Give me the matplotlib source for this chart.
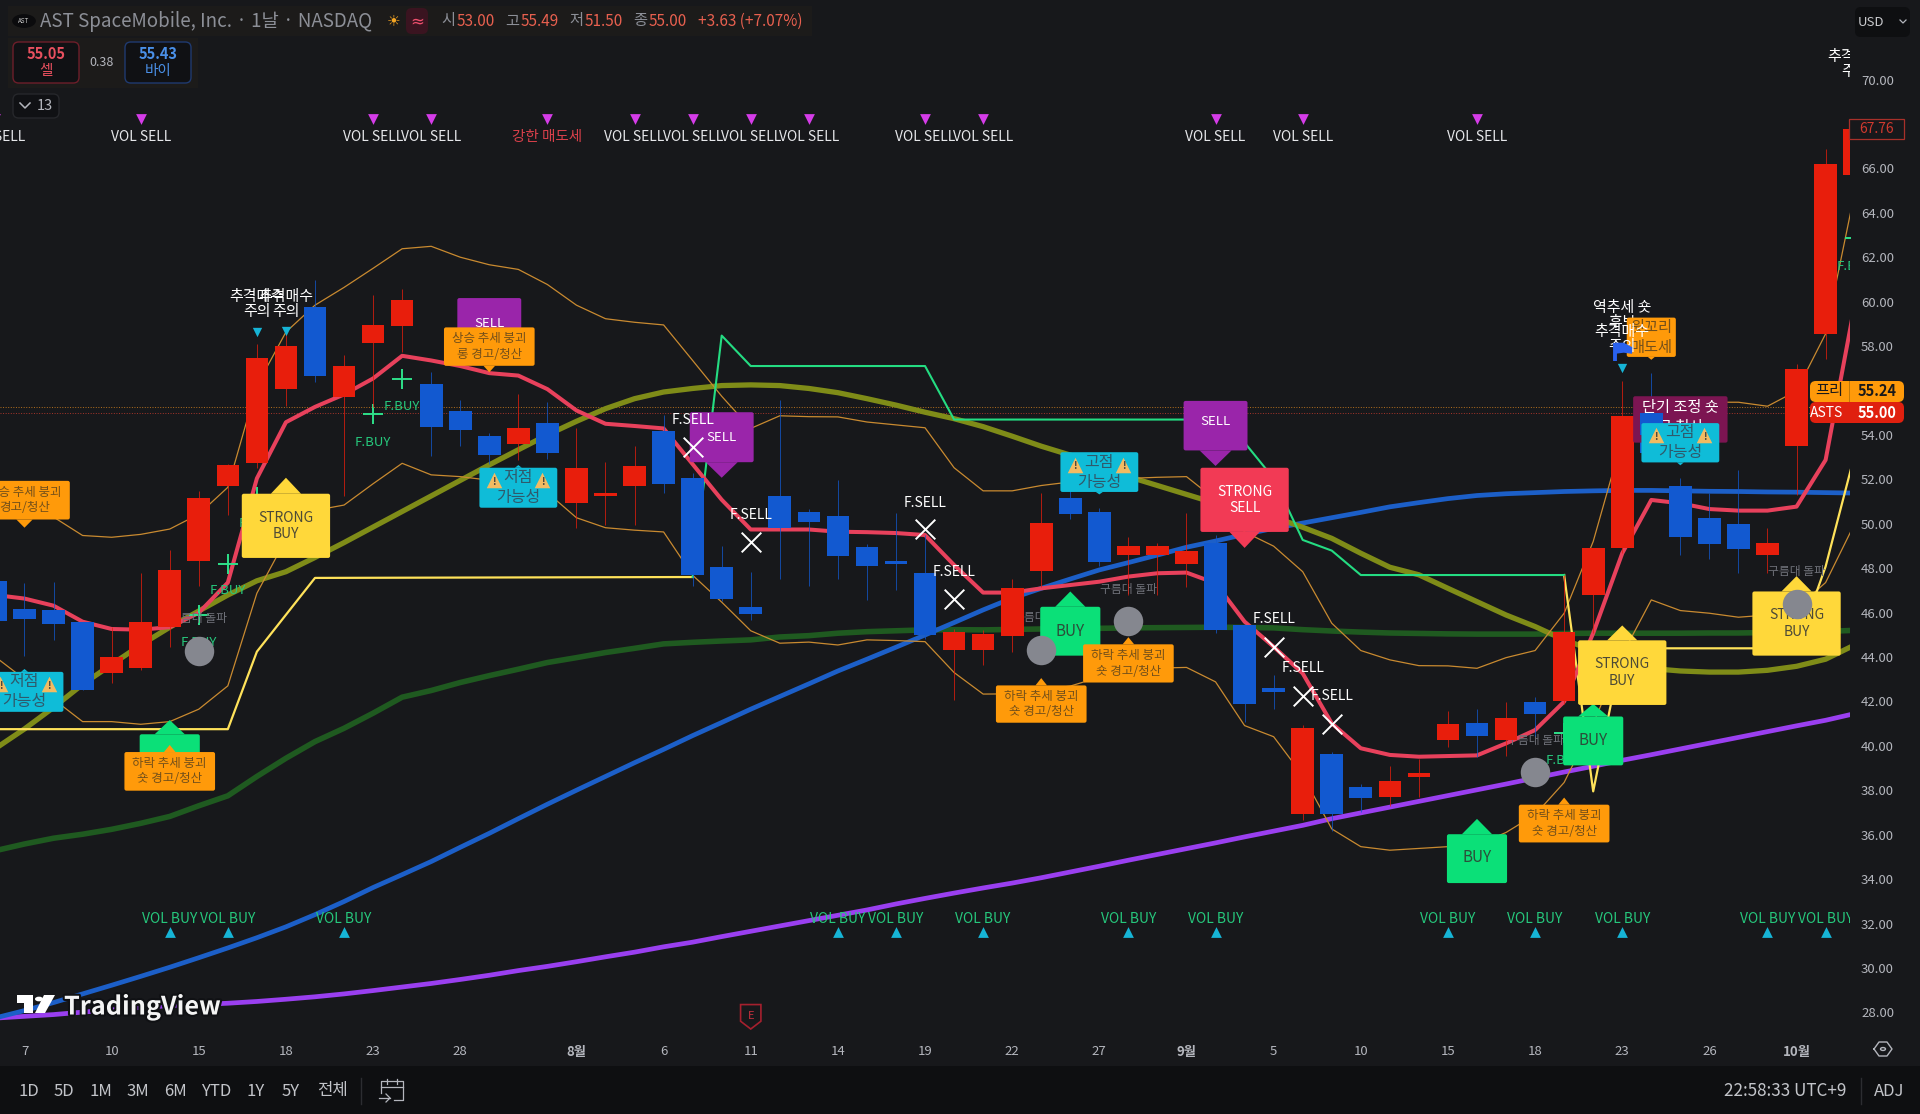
import matplotlib
matplotlib.use("Agg")
import matplotlib.pyplot as plt
from matplotlib.patches import Polygon, Circle, FancyBboxPatch, Rectangle
import matplotlib.patheffects as pe

plt.rcParams['font.family'] = ['Noto Sans CJK KR', 'DejaVu Sans']

W, H = 1920, 1114
BG = '#17181b'
BAR = '#0e0f11'
TXT = '#b4b6bd'

bar_index = [-1, 0, 1, 2, 3, 4, 5, 6, 7, 8, 9, 10, 11, 12, 13, 14, 15, 16, 17, 18, 19, 20, 21, 22, 23, 24, 25, 26, 27, 28, 29, 30,
             31, 32, 33, 34, 35, 36, 37, 38, 39, 40, 41, 42, 43, 44, 45, 46, 47, 48, 49, 50, 51, 52, 53, 54, 55, 56, 57, 58, 59, 60, 61, 62, 63]
opens = [47.43, 46.18, 46.10, 45.59, 43.29, 43.5, 45.34, 48.32, 51.72, 52.75, 56.06, 59.76, 55.69, 58.12, 58.9, 56.3, 55.08, 53.97, 53.6, 54.53, 50.92, 51.24, 51.72, 54.18, 52.07, 48.03, 46.26, 51.27, 50.53, 50.35, 48.94, 48.3,
         47.76, 44.31, 44.33, 44.94, 47.87, 51.17, 50.51, 48.58, 48.6, 48.19, 49.12, 45.42, 42.61, 36.95, 39.64, 38.16, 37.71, 38.59, 40.28, 41.04, 40.28, 41.97, 42.02, 46.79, 48.9, 55.0, 51.69, 50.24, 50.0, 48.58, 53.52, 58.55, 65.68]
highs = [47.6, 47.35, 47.39, 45.59, 45.34, 47.76, 48.8, 51.48, 52.7, 58.07, 58.55, 60.96, 57.59, 60.32, 60.56, 56.83, 55.58, 54.1, 55.82, 55.5, 54.3, 52.77, 53.5, 54.9, 52.3, 49.0, 47.84, 55.55, 50.68, 51.96, 49.1, 50.5,
         49.5, 45.26, 45.2, 47.51, 51.37, 52.0, 50.69, 49.42, 49.12, 50.47, 49.47, 45.5, 43.17, 40.92, 39.72, 38.3, 39.07, 39.4, 41.57, 41.65, 41.97, 42.2, 47.7, 48.9, 56.42, 56.78, 52.04, 51.4, 52.44, 49.8, 57.2, 66.86, 67.76]
lows = [45.3, 44.06, 44.78, 42.5, 42.82, 43.42, 44.43, 47.2, 50.4, 52.5, 55.29, 56.38, 51.24, 55.26, 57.75, 53.04, 53.49, 52.7, 52.85, 52.93, 49.8, 49.95, 49.95, 51.4, 47.2, 46.5, 45.67, 47.5, 47.2, 47.5, 46.57, 47.03,
        44.8, 42.06, 43.64, 44.24, 47.17, 50.2, 48.1, 46.79, 46.79, 47.17, 45.1, 41.08, 41.65, 36.66, 36.18, 37.0, 37.3, 37.7, 39.96, 39.48, 39.56, 40.44, 41.9, 45.1, 48.7, 53.0, 48.6, 48.4, 47.8, 47.8, 51.3, 57.43, 65.68]
closes = [45.62, 45.70, 45.47, 42.53, 44.0, 45.59, 47.92, 51.16, 52.65, 57.48, 58.02, 56.67, 57.1, 58.95, 60.08, 54.34, 54.23, 53.09, 54.32, 53.2, 52.49, 51.4, 52.6, 51.8, 47.71, 46.63, 45.94, 49.79, 50.08, 48.54, 48.11, 48.2,
          44.97, 45.12, 45.03, 47.11, 50.05, 50.45, 48.27, 48.99, 48.99, 48.78, 45.23, 41.89, 42.42, 40.81, 36.95, 37.63, 38.42, 38.77, 41.0, 40.44, 41.24, 41.45, 45.14, 48.9, 54.84, 53.2, 49.42, 49.1, 48.86, 49.12, 56.98, 66.19, 67.76]

pink_line = [46.79, 46.63, 46.31, 45.59, 45.26, 45.23, 45.34, 45.99, 47.35, 52.04, 54.57, 55.26, 55.82, 56.54, 57.56, 57.35, 57.1, 56.78, 56.67, 56.06, 55.1, 54.5, 54.4, 54.29, 52.68, 51.08, 49.74, 49.74, 49.74, 49.64, 49.62, 49.58,
             49.49, 48.14, 46.9, 46.9, 47.09, 47.24, 47.39, 47.62, 47.77, 47.8, 47.32, 45.59, 44.46, 43.26, 41.01, 39.89, 39.59, 39.51, 39.54, 39.57, 40.11, 40.71, 41.99, 45.07, 48.67, 51.07, 50.92, 50.66, 50.59, 50.59, 50.77, 52.87, 59.84]
band_upper = [51.2, 50.8, 50.3, 49.47, 49.39, 49.52, 49.76, 50.43, 51.64, 56.22, 58.63, 59.84, 60.64, 61.5, 62.38, 62.49, 62.0, 61.66, 61.45, 60.77, 59.84, 59.23, 59.07, 58.95, 57.35, 55.74, 54.29, 54.86, 54.82, 54.81, 54.58, 54.45,
              54.32, 52.52, 51.48, 51.48, 51.72, 51.88, 51.96, 52.04, 52.09, 52.12, 51.08, 49.63, 48.99, 47.84, 45.52, 44.29, 43.87, 43.61, 43.6, 43.49, 43.97, 44.29, 45.97, 49.2, 53.81, 55.5, 55.66, 55.47, 55.47, 55.29, 55.98, 58.55, 64.9]
band_lower = [44.0, 43.0, 42.1, 41.09, 41.09, 40.97, 41.09, 41.65, 42.7, 46.87, 49.3, 50.6, 50.84, 51.8, 52.72, 52.2, 52.12, 51.96, 52.04, 51.4, 50.27, 49.82, 49.71, 49.63, 47.68, 46.47, 45.18, 44.62, 44.67, 44.54, 44.77, 44.74,
              44.69, 43.3, 42.33, 42.34, 42.53, 42.69, 43.09, 43.33, 43.5, 43.53, 42.88, 40.91, 40.41, 38.67, 36.26, 35.46, 35.3, 35.38, 35.46, 35.54, 36.1, 36.9, 38.35, 41.0, 44.1, 46.57, 46.09, 45.97, 45.79, 45.89, 46.2, 47.35, 50.0]
olive_line = [39.88, 40.76, 41.73, 42.77, 43.66, 44.54, 45.34, 46.07, 46.79, 47.43, 47.84, 48.48, 49.15, 49.85, 50.55, 51.25, 51.95, 52.65, 53.33, 54.0, 54.61, 55.18, 55.63, 55.93, 56.09, 56.22, 56.25, 56.22, 56.09, 55.9, 55.63, 55.34,
              55.02, 54.73, 54.37, 53.94, 53.49, 53.09, 52.6, 52.12, 51.72, 51.32, 50.92, 50.6, 50.3, 49.84, 49.34, 48.67, 48.04, 47.7, 47.09, 46.49, 45.89, 45.37, 44.77, 44.3, 43.75, 43.48, 43.37, 43.32, 43.32, 43.4, 43.58, 43.9, 44.54]
dark_green = [35.28, 35.58, 35.84, 36.02, 36.24, 36.51, 36.82, 37.3, 37.75, 38.62, 39.44, 40.19, 40.79, 41.47, 42.19, 42.49, 42.85, 43.16, 43.45, 43.75, 43.97, 44.2, 44.39, 44.59, 44.66, 44.72, 44.77, 44.9, 44.96, 45.07, 45.14, 45.18,
              45.22, 45.23, 45.22, 45.24, 45.26, 45.28, 45.29, 45.31, 45.32, 45.33, 45.34, 45.33, 45.31, 45.23, 45.17, 45.12, 45.08, 45.06, 45.04, 45.03, 45.03, 45.03, 45.06, 45.07, 45.07, 45.07, 45.07, 45.08, 45.08, 45.1, 45.12, 45.15, 45.2]
blue_line = [27.75, 28.08, 28.44, 28.83, 29.22, 29.62, 30.03, 30.46, 30.9, 31.36, 31.85, 32.4, 32.99, 33.62, 34.2, 34.79, 35.43, 36.06, 36.72, 37.37, 38.0, 38.62, 39.24, 39.84, 40.46, 41.05, 41.65, 42.22, 42.79, 43.37, 43.9, 44.44,
             44.99, 45.55, 46.12, 46.65, 47.09, 47.51, 47.92, 48.25, 48.59, 48.94, 49.22, 49.52, 49.79, 50.03, 50.27, 50.51, 50.76, 50.95, 51.13, 51.27, 51.35, 51.4, 51.45, 51.48, 51.5, 51.5, 51.48, 51.46, 51.45, 51.43, 51.42, 51.4, 51.38]
purple_line = [27.74, 27.82, 27.9, 28.01, 28.11, 28.22, 28.3, 28.35, 28.41, 28.49, 28.59, 28.7, 28.83, 28.98, 29.14, 29.3, 29.48, 29.67, 29.88, 30.07, 30.28, 30.5, 30.71, 30.95, 31.16, 31.41, 31.65, 31.89, 32.13, 32.37, 32.61, 32.88,
               33.13, 33.37, 33.6, 33.82, 34.06, 34.32, 34.58, 34.85, 35.11, 35.37, 35.63, 35.9, 36.16, 36.42, 36.72, 36.98, 37.24, 37.5, 37.76, 38.02, 38.28, 38.55, 38.82, 39.08, 39.35, 39.6, 39.86, 40.12, 40.38, 40.64, 40.9, 41.15, 41.45]

yellow_x1 = [-1, 7, 8, 9, 10, 23]
yellow_y1 = [40.75, 40.75, 44.24, 45.9, 47.56, 47.6]
green_x = [23, 24, 25, 31, 32, 41, 42, 43, 44, 45, 46, 53]
green_y = [47.6, 58.47, 57.1, 57.1, 54.69, 54.69, 53.65, 52.04, 49.27, 48.79, 47.69, 47.69]
yellow_x2 = [53, 54, 55, 60, 61, 62, 63]
yellow_y2 = [47.69, 37.95, 44.39, 44.39, 44.39, 48.07, 53.1]

vol_sell_x = [-1, 4, 12, 14, 21, 23, 25, 27, 31, 33, 41, 44, 50]
vol_buy_x = [5, 7, 11, 28, 30, 33, 38, 41, 49, 52, 55, 60, 62]
strong_sell_x = [18]
price_ticks = [28, 30, 32, 34, 36, 38, 40, 42, 44, 46, 48, 50, 52, 54, 58, 60, 62, 64, 66, 70]
date_pos = [0, 3, 6, 9, 12, 15, 19, 22, 25, 28, 31, 34, 37, 40, 43, 46, 49, 52, 55, 58, 61]
date_lbl = ['7', '10', '15', '18', '23', '28', '8월', '6', '11', '14', '19', '22', '27', '9월', '5', '10', '15', '18', '23', '26', '10월']
fbuy_x = [6, 7, 8, 12, 13, 53, 63]
fbuy_text_y = [44.65, 46.98, 50.03, 53.65, 55.26, 39.36, 61.56]
fbuy_plus_y = [45.9, 48.19, 51.2, 54.94, 56.51, 40.56, 62.85]
fsell_x = [23, 25, 31, 32, 43, 44, 45]
fsell_text_y = [54.69, 50.39, 50.95, 47.83, 45.71, 43.5, 42.26]
fsell_mark_y = [53.46, 49.18, 49.75, 46.6, 44.46, 42.26, 41.0]
circle_x = [6, 35, 38, 52, 61]
circle_y = [44.27, 44.33, 45.63, 38.8, 46.39]
cloud_x = [6, 35, 38, 52, 61]
cloud_y = [45.75, 45.78, 47.03, 40.23, 47.87]

fig = plt.figure(figsize=(W / 100, H / 100), dpi=100, facecolor=BG)
AX_R, AX_B = 1850, 1035
ax = fig.add_axes([0, 1 - AX_B / H, AX_R / W, AX_B / H], facecolor=BG)
ax.set_xlim(-0.843, 62.84)
ax.set_ylim(26.98, 73.58)
for s in ax.spines.values():
    s.set_visible(False)
ax.yaxis.tick_right()
ax.set_yticks(price_ticks)
ax.set_yticklabels([f'{p:.2f}' for p in price_ticks], color=TXT, fontsize=9.5)
ax.set_xticks(date_pos)
ax.set_xticklabels(date_lbl, color=TXT, fontsize=9.5)
for l, t in zip(ax.get_xticklabels(), date_lbl):
    if '월' in t:
        l.set_fontweight('bold')
ax.tick_params(axis='both', length=0)
ax.tick_params(axis='x', pad=7)
ax.tick_params(axis='y', pad=8)

# lines
ax.plot(bar_index, dark_green, color='#1f5a20', lw=4.0, zorder=2)
ax.plot(bar_index, purple_line, color='#9a3ff0', lw=3.4, zorder=2)
ax.plot(bar_index, blue_line, color='#1c5fc8', lw=3.4, zorder=2.1)
ax.plot(bar_index, olive_line, color='#7f8c18', lw=3.8, zorder=2.2)
ax.plot(bar_index, band_upper, color='#c98a30', lw=0.9, zorder=2.3)
ax.plot(bar_index, band_lower, color='#c98a30', lw=0.9, zorder=2.3)
for xs, ys in ((yellow_x1, yellow_y1), (yellow_x2, yellow_y2)):
    ax.plot(xs, ys, color='#ffe25a', lw=1.6, zorder=2.4)
ax.plot(green_x, green_y, color='#24dc82', lw=1.5, zorder=2.4)
ax.plot(bar_index, pink_line, color='#e8415c', lw=2.9, zorder=2.5)
ax.axhline(55.24, color='#b5701e', lw=0.7, ls=':', zorder=1.5)
ax.axhline(55.00, color='#a8352a', lw=0.7, ls=':', zorder=1.5)

# markers under candles and labels
ax.scatter(fbuy_x, fbuy_plus_y, marker='+', s=190, color='#2ee08a', linewidths=1.4, zorder=2.6)
for x, y in zip(fbuy_x, fbuy_text_y):
    ax.text(x, y, 'F.BUY', color='#26c77c', fontsize=9.5, ha='center', va='center', zorder=2.6, clip_on=True)
for x, y in zip(cloud_x, cloud_y):
    ax.text(x, y, '구름대 돌파', color='#6f7179', fontsize=8.5, ha='center', va='center', zorder=2.6, clip_on=True)

# candles
RED, BLUE = '#e81e0c', '#1259d0'
for x, o, h, l, c in zip(bar_index, opens, highs, lows, closes):
    col = RED if c >= o else BLUE
    ax.plot([x, x], [l, h], color=col, lw=0.7, alpha=0.75, zorder=3, solid_capstyle='butt')
    ax.add_patch(Rectangle((x - 0.39, min(o, c)), 0.78, max(abs(c - o), 0.08), fc=col, ec='none', zorder=3.1))


def callout(cx, top, bot, w, color, lines=None, tcolor='#333', fs=9, tip=None, tip_w=0.3, z=5, warn=False, ty=None):
    ax.add_patch(FancyBboxPatch((cx - w / 2, bot), w, top - bot, boxstyle='round,pad=0,rounding_size=0.07', mutation_aspect=1.3, fc=color, ec='none', zorder=z))
    if tip is not None:
        base = top if tip > top else bot
        ax.add_patch(Polygon([(cx - tip_w, base), (cx + tip_w, base), (cx, tip)], closed=True, fc=color, ec='none', zorder=z))
    if lines:
        yc = (top + bot) / 2 if ty is None else ty
        ax.text(cx, yc, lines, color=tcolor, fontsize=fs, ha='center', va='center', linespacing=1.22, zorder=z + 0.1, clip_on=True)
    if warn:
        yl = (top + bot) / 2 + 0.34
        for dx in (-0.83, 0.83):
            ax.scatter([cx + dx], [yl], marker='^', s=125, color='#f2bb62', linewidths=0, zorder=z + 0.1)
            ax.text(cx + dx, yl - 0.06, '!', color='#3a3a3a', fontsize=7, fontweight='bold', ha='center', va='center', zorder=z + 0.2)


ORANGE, CYAN, GREEN, YELLOW, PURPLE = '#ff9a0a', '#0fbcd8', '#0be078', '#ffd83a', '#9a25aa'
BROWN = '#74501a'
TEAL = '#2f5a6c'
# vertical order follows the reference
callout(0, 51.93, 50.19, 3.12, ORANGE, '상승 추세 붕괴\n경고/청산', BROWN, tip=49.82, tip_w=0.28)
callout(0, 43.33, 41.53, 2.68, CYAN, '저점\n가능성', TEAL, fs=11.5, tip=43.46, tip_w=0.12, warn=True)
callout(5, 40.52, 38.5, 2.07, GREEN, tip=41.16, tip_w=0.52)
callout(5, 39.72, 37.98, 3.12, ORANGE, '하락 추세 붕괴\n숏 경고/청산', BROWN, tip=40.04, tip_w=0.2, z=5.2)
callout(9, 51.35, 48.46, 3.04, YELLOW, 'STRONG\nBUY', '#4d4a36', fs=10, tip=52.07, tip_w=0.52)
callout(16, 60.16, 58.0, 2.2, PURPLE, 'SELL', 'white', fs=9.5, ty=59.0)
callout(16, 58.84, 57.11, 3.12, ORANGE, '상승 추세 붕괴\n롱 경고/청산', BROWN, tip=56.82, tip_w=0.2, z=5.2)
callout(17, 52.52, 50.72, 2.68, CYAN, '저점\n가능성', TEAL, fs=11.5, tip=52.64, tip_w=0.12, warn=True)
callout(24, 55.02, 52.77, 2.2, PURPLE, 'SELL', 'white', fs=9.5, tip=52.07, tip_w=0.55, ty=53.9)
callout(36, 46.26, 44.06, 2.07, GREEN, 'BUY', '#2b4f3a', fs=11, tip=46.95, tip_w=0.52, ty=45.15)
callout(35, 42.72, 41.04, 3.12, ORANGE, '하락 추세 붕괴\n숏 경고/청산', BROWN, tip=43.05, tip_w=0.2)
callout(38, 44.57, 42.85, 3.12, ORANGE, '하락 추세 붕괴\n숏 경고/청산', BROWN, tip=44.89, tip_w=0.2)
callout(37, 53.22, 51.43, 2.68, CYAN, '고점\n가능성', TEAL, fs=11.5, tip=51.32, tip_w=0.12, warn=True)
callout(41, 55.53, 53.3, 2.2, PURPLE, 'SELL', 'white', fs=9.5, tip=52.6, tip_w=0.55, ty=54.6)
callout(42, 52.52, 49.63, 3.04, '#f23a55', 'STRONG\nSELL', 'white', fs=10, tip=48.91, tip_w=0.52)
callout(57, 55.74, 53.65, 3.25, '#7c1552', '단기 조정 숏\n금 청산', 'white', fs=11, z=4.5, ty=54.77)
ax.add_patch(Rectangle((55.61, 54.0), 0.78, 1.0, fc=BLUE, ec='none', zorder=4.6))
callout(57, 54.53, 52.76, 2.68, CYAN, '고점\n가능성', TEAL, fs=11.5, tip=52.63, tip_w=0.12, warn=True)
callout(56, 59.28, 57.51, 1.69, ORANGE, '윗꼬리\n매도세', BROWN, fs=11, tip=57.38, tip_w=0.12, z=5.3)
callout(50, 36.02, 33.82, 2.07, GREEN, 'BUY', '#2b4f3a', fs=11, tip=36.71, tip_w=0.52, ty=34.96)
callout(53, 37.35, 35.65, 3.12, ORANGE, '하락 추세 붕괴\n숏 경고/청산', BROWN, tip=37.67, tip_w=0.2)
callout(54, 41.32, 39.12, 2.07, GREEN, 'BUY', '#2b4f3a', fs=11, tip=41.89, tip_w=0.52)
callout(55, 44.75, 41.84, 3.04, YELLOW, 'STRONG\nBUY', '#4d4a36', fs=10, tip=45.42, tip_w=0.52)
callout(61, 46.95, 44.06, 3.04, YELLOW, 'STRONG\nBUY', '#4d4a36', fs=10, tip=47.64, tip_w=0.52)

# circles over the boxes
ax.scatter(circle_x, circle_y, s=450, color='#85878f', zorder=6, linewidths=0)

# F.SELL
ax.scatter(fsell_x, fsell_mark_y, marker='x', s=200, color='white', linewidths=1.4, zorder=6)
for x, y in zip(fsell_x, fsell_text_y):
    ax.text(x, y, 'F.SELL', color='white', fontsize=10, ha='center', va='center', zorder=6)

# chase warnings
warn_x = [8, 9, 55, 63]
warn_y = [59.86, 59.86, 58.31, 70.66]
for x, y in zip(warn_x, warn_y):
    ax.text(x, y, '추격매수\n주의', color='white', fontsize=10.8, ha='center', va='center', linespacing=1.1, zorder=6, clip_on=True)
ax.text(55, 59.36, '역추세 숏\n후보', color='white', fontsize=10.8, ha='center', va='center', linespacing=1.1, zorder=5.1)
ax.scatter([8, 9, 55], [58.63, 58.66, 57.03], marker='v', s=45, color='#16b4d6', linewidths=0, zorder=6)

# blue flag
ax.plot([54.75, 54.75], [57.32, 58.15], color='#2a62f0', lw=2.8, zorder=6.2, solid_capstyle='butt')
ax.add_patch(Polygon([(54.75, 58.15), (55.05, 58.15), (55.34, 57.95), (55.34, 57.65), (55.05, 57.7), (54.75, 57.65)], fc='#2a62f0', ec='none', zorder=6.2))

# volume marks
ax.scatter(vol_sell_x + strong_sell_x, [68.24] * (len(vol_sell_x) + 1), marker='v', s=60, color='#d53ce8', linewidths=0, zorder=6)
for x in vol_sell_x:
    ax.text(x, 67.42, 'VOL SELL', color='#e6e7ea', fontsize=10, ha='center', va='center', zorder=6, clip_on=True)
for x in strong_sell_x:
    ax.text(x, 67.42, '강한 매도세', color='#d8404a', fontsize=10.5, ha='center', va='center', zorder=6)
ax.scatter(vol_buy_x, [31.6] * len(vol_buy_x), marker='^', s=60, color='#16b4d6', linewidths=0, zorder=6)
for x in vol_buy_x:
    ax.text(x, 32.22, 'VOL BUY', color='#26c77c', fontsize=10, ha='center', va='center', zorder=6, clip_on=True)

# earnings mark
ax.add_patch(Polygon([(24.65, 28.35), (25.35, 28.35), (25.35, 27.6), (25, 27.25), (24.65, 27.6)], closed=True, fc='none', ec='#a5202e', lw=1.2, zorder=6))
ax.text(25, 27.85, 'E', color='#c6303e', fontsize=8, ha='center', va='center', zorder=6)


def fx(x):
    return x / W


def fy(y):
    return 1 - y / H


def ftext(x, y, s, color=TXT, fs=10, ha='center', **kw):
    return fig.text(fx(x), fy(y), s, color=color, fontsize=fs, ha=ha, va='center', **kw)


def frect(x0, y0, x1, y1, fc, ec='none', lw=0.8, z=10, rounded=False):
    style = 'round,pad=0,rounding_size=0.003' if rounded else 'square,pad=0'
    r = FancyBboxPatch((fx(x0), fy(y1)), (x1 - x0) / W, (y1 - y0) / H, boxstyle=style, mutation_aspect=1.72, transform=fig.transFigure, fc=fc, ec=ec, lw=lw, zorder=z)
    fig.add_artist(r)
    return r


def fline(xs, ys, color=TXT, lw=1.0, z=11):
    fig.add_artist(plt.Line2D([fx(x) for x in xs], [fy(y) for y in ys], color=color, lw=lw, transform=fig.transFigure, zorder=z))


def fpoly(pts, fc='white', z=12):
    fig.add_artist(Polygon([(fx(a), fy(b)) for a, b in pts], closed=True, transform=fig.transFigure, fc=fc, ec='none', zorder=z))


# TradingView logo
halo = [pe.withStroke(linewidth=3, foreground='#101114')]
ftext(64, 1007, 'TradingView', color='#f4f4f4', fs=18.2, ha='left', fontweight='bold', path_effects=halo, zorder=12)
fpoly([(17, 995), (33, 995), (33, 1013), (24, 1013), (24, 1003), (17, 1003)])
fig.add_artist(Circle((fx(39), fy(999)), 0.0021, transform=fig.transFigure, fc='white', ec='none', zorder=12))
fpoly([(44, 995), (55, 995), (45, 1013), (35, 1013)])

# header
frect(8, 6, 812, 36, '#1c1b1a', z=9)
fig.add_artist(Circle((fx(24), fy(21)), 0.0062, transform=fig.transFigure, fc='#0b0b0d', ec='none', zorder=10))
ftext(24, 21, 'AST', color='#c9c9c9', fs=4.5, zorder=11)
ftext(40, 21, 'AST SpaceMobile, Inc. · 1날 · NASDAQ', color='#8c8f97', fs=13.5, ha='left', zorder=11)
ftext(394, 21, '☀', color='#f5a623', fs=11, family='DejaVu Sans', zorder=11)
frect(406, 8, 428, 34, '#3a1420', z=10, rounded=True)
ftext(417, 21, '≈', color='#f0506e', fs=12, family='DejaVu Sans', zorder=11)
header_parts = [(441, '시', '#8c8f97'), (457, '53.00', '#e8604f'), (505, '고', '#8c8f97'), (521, '55.49', '#e8604f'), (569, '저', '#8c8f97'), (585, '51.50', '#e8604f'), (633, '종', '#8c8f97'), (649, '55.00', '#e8604f'), (698, '+3.63 (+7.07%)', '#e8604f')]
for x, s, c in header_parts:
    ftext(x, 21, s, color=c, fs=11, ha='left', zorder=11)

frect(8, 38, 198, 88, '#1c1b1a', z=9)
frect(13, 42, 79, 83, '#101114', ec='#6d1e2a', lw=1.0, z=10, rounded=True)
ftext(46, 54, '55.05', color='#e8505f', fs=10.5, fontweight='bold', zorder=11)
ftext(46, 71, '셀', color='#e8505f', fs=10.5, zorder=11)
ftext(102, 62, '0.38', color=TXT, fs=9, zorder=11)
frect(125, 42, 191, 83, '#101114', ec='#1f3a70', lw=1.0, z=10, rounded=True)
ftext(158, 54, '55.43', color='#4a90e8', fs=10.5, fontweight='bold', zorder=11)
ftext(158, 71, '바이', color='#4a90e8', fs=10.5, zorder=11)
frect(13, 94, 59, 118, '#101114', ec='#26272b', lw=1.0, z=10, rounded=True)
fline([20, 25, 30], [103, 108, 103], color=TXT, lw=1.1)
ftext(45, 106, '13', fs=10.5, zorder=11)

# price-scale tags
frect(1855, 7, 1910, 37, '#0e0f11', z=9, rounded=True)
ftext(1871, 22, 'USD', color='#c8c9cc', fs=9.5, zorder=11)
fline([1900, 1903, 1906], [20, 23, 20], color=TXT, lw=0.9)
frect(1849, 119, 1904, 139, BG, ec='#a8302a', lw=0.9, z=10)
ftext(1877, 129, '67.76', color='#d0392e', fs=10, zorder=11)
frect(1810, 381, 1904, 402, ORANGE, z=10, rounded=True)
frect(1849, 381, 1850, 402, '#c07808', z=10.5)
ftext(1829, 391, '프리', color='#1a1a1a', fs=11, zorder=11)
ftext(1877, 391, '55.24', color='#1a1a1a', fs=10.5, fontweight='bold', zorder=11)
frect(1810, 402, 1904, 423, '#e0200f', z=10, rounded=True)
ftext(1827, 413, 'ASTS', color='white', fs=10, zorder=11)
ftext(1877, 413, '55.00', color='white', fs=10.5, fontweight='bold', zorder=11)

# settings mark on the time scale
fpts = [(1883 + dx, 1049 + dy) for dx, dy in [(-9, 0), (-4, -7), (4, -7), (9, 0), (4, 7), (-4, 7), (-9, 0)]]
fline([p[0] for p in fpts], [p[1] for p in fpts], color=TXT, lw=1.0)
fig.add_artist(Circle((fx(1883), fy(1049)), 0.0013, transform=fig.transFigure, fc='none', ec=TXT, lw=1.0, zorder=11))

# bottom toolbar
frect(0, 1066, W, H, BAR, z=9)
range_x = [29, 64, 101, 138, 175, 216, 256, 291, 332]
range_lbl = ['1D', '5D', '1M', '3M', '6M', 'YTD', '1Y', '5Y', '전체']
for x, s in zip(range_x, range_lbl):
    ftext(x, 1091, s, color='#c2c4c9', fs=12, zorder=11)
fline([361, 361], [1078, 1104], color='#2c2d31', lw=1)
fline([381, 381, 403, 403, 394], [1093, 1081, 1081, 1100, 1100], color=TXT, lw=0.9)
fline([381, 403], [1087, 1087], color=TXT, lw=0.9)
fline([387, 387], [1079, 1084], color=TXT, lw=0.9)
fline([397, 397], [1079, 1084], color=TXT, lw=0.9)
fline([379, 390], [1098, 1098], color=TXT, lw=0.9)
fline([386, 390, 386], [1094, 1098, 1102], color=TXT, lw=0.9)
ftext(1785, 1091, '22:58:33 UTC+9', color='#c2c4c9', fs=12.3, zorder=11)
fline([1861, 1861], [1078, 1104], color='#2c2d31', lw=1)
ftext(1889, 1091, 'ADJ', color='#c2c4c9', fs=12, zorder=11)

fig.savefig('out.png', dpi=100, facecolor=BG)
